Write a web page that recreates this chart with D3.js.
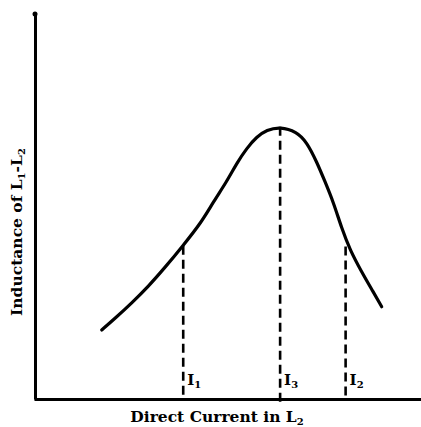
<!DOCTYPE html>
<html><head><meta charset="utf-8">
<script src="https://cdn.jsdelivr.net/npm/d3@7"></script>
<style>body{margin:0;background:#fff}svg{display:block}</style>
</head><body>
<svg id="c" width="421" height="427"></svg>
<script>
// Direct current (arbitrary units) and inductance (arbitrary units)
const currents   = [1.742, 2.089, 2.525, 2.958, 3.394, 3.846, 4.352, 4.655, 5.005, 5.266, 5.527, 5.789, 6.050, 6.397, 6.833, 7.094, 7.355, 7.572, 7.789, 8.008, 8.225, 8.530, 8.833, 9.052];
const inductance = [1.788, 2.088, 2.487, 2.915, 3.407, 3.951, 4.585, 5.104, 5.630, 6.106, 6.495, 6.795, 6.969, 7.054, 6.925, 6.658, 6.148, 5.630, 5.104, 4.422, 3.860, 3.290, 2.772, 2.391];
// marked currents
const markNames = ["I", "I", "I"];
const markSubs  = ["1", "3", "2"];
const markX     = [3.87, 6.40, 8.11];
const markY     = [3.97, 7.05, 3.95];
const xTitle = "Direct Current in ";
const yTitle = "Inductance of ";

const svg = d3.select("#c");
const x = d3.scaleLinear().domain([0, 10]).range([35, 418]);
const y = d3.scaleLinear().domain([0, 10]).range([399, 13]);
const font = "'DejaVu Serif', 'Liberation Serif', serif";

// axes (no ticks)
const gx = svg.append("g").attr("transform", `translate(0,${y(0)})`)
  .call(d3.axisBottom(x.copy().domain([0, 10.05]).range([34, 421])).ticks(0).tickSizeOuter(0));
gx.select(".domain").attr("stroke", "#000").attr("stroke-width", 3);
const gy = svg.append("g").attr("transform", `translate(${x(0)},0)`)
  .call(d3.axisLeft(y).ticks(0).tickSizeOuter(0));
gy.select(".domain").attr("stroke", "#000").attr("stroke-width", 3);
svg.append("circle").attr("cx", x(0)).attr("cy", y(10)+1).attr("r", 2.5).attr("fill", "#000");

// curve
const pts = currents.map((c, i) => [c, inductance[i]]);
svg.append("path").datum(pts)
  .attr("d", d3.line().x(d => x(d[0])).y(d => y(d[1])).curve(d3.curveBasis))
  .attr("fill", "none").attr("stroke", "#000").attr("stroke-width", 3.2).attr("stroke-linecap", "round");

// dashed markers
markX.forEach((mx, i) => {
  svg.append("line")
    .attr("x1", x(mx)).attr("x2", x(mx))
    .attr("y1", y(markY[i])).attr("y2", y(i === 1 ? -0.15 : 0))
    .attr("stroke", "#000").attr("stroke-width", 2.6).attr("stroke-dasharray", "9,5");
  const t = svg.append("text").attr("x", x(mx) + 4).attr("y", 385)
    .attr("font-family", font).attr("font-weight", "bold").attr("font-size", 15);
  t.append("tspan").text(markNames[i]);
  t.append("tspan").attr("dy", 3).attr("font-size", 10).text(markSubs[i]);
});

// x title
const xt = svg.append("text").attr("x", 217).attr("y", 422).attr("text-anchor", "middle")
  .attr("font-family", font).attr("font-weight", "bold").attr("font-size", 15.5);
xt.append("tspan").text(xTitle);
xt.append("tspan").text("L");
xt.append("tspan").attr("dy", 3).attr("font-size", 10).text("2");

// y title
const yt = svg.append("text").attr("transform", "translate(22,232) rotate(-90)").attr("text-anchor", "middle")
  .attr("font-family", font).attr("font-weight", "bold").attr("font-size", 15.5);
yt.append("tspan").text(yTitle);
yt.append("tspan").text("L");
yt.append("tspan").attr("dy", 3).attr("font-size", 10).text("1");
yt.append("tspan").attr("dy", -3).text("-L");
yt.append("tspan").attr("dy", 3).attr("font-size", 10).text("2");
</script>
</body></html>
